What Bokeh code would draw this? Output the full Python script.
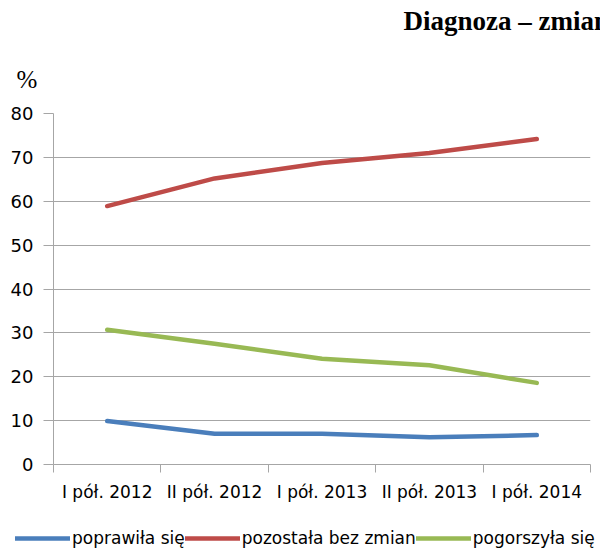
from bokeh.plotting import figure
from bokeh.layouts import column
from bokeh.models import (FixedTicker, Legend, LegendItem, Label, Range1d)
from bokeh.embed import file_html
from bokeh.resources import INLINE

periods = ["I pół. 2012", "II pół. 2012", "I pół. 2013", "II pół. 2013", "I pół. 2014"]
poprawila = [9.9, 7.0, 7.0, 6.2, 6.7]
bez_zmian = [58.9, 65.2, 68.7, 71.0, 74.2]
pogorszyla = [30.7, 27.5, 24.1, 22.6, 18.6]
series_names = ["poprawiła się", "pozostała bez zmian", "pogorszyła się"]
colors = ["#4A7EBB", "#BE4B48", "#98B954"]
y_ticks = [0, 10, 20, 30, 40, 50, 60, 70, 80]
title_text = "Diagnoza – zmian"
unit_text = "%"

xs = [i + 0.5 for i in range(len(periods))]
series = [poprawila, bez_zmian, pogorszyla]

grey = "#A6A6A6"
font = "DejaVu Sans"

# header strip with the title and the unit label
head = figure(width=600, height=100, output_backend="svg", toolbar_location=None,
              x_range=Range1d(0, 600), y_range=Range1d(0, 100),
              min_border=0, x_axis_location=None, y_axis_location=None)
head.frame_align = False
head.outline_line_color = None
head.grid.grid_line_color = None
head.border_fill_color = "white"
head.add_layout(Label(x=403, y=80, x_units="screen", y_units="screen",
                      text=title_text, text_font="Liberation Serif",
                      text_font_style="bold", text_font_size="27px",
                      text_baseline="alphabetic", text_color="black"))
head.add_layout(Label(x=16, y=21, x_units="screen", y_units="screen",
                      text=unit_text, text_font="Liberation Serif",
                      text_font_size="25px", text_baseline="alphabetic",
                      text_color="black"))

p = figure(width=600, height=412, output_backend="svg", toolbar_location=None,
           x_range=Range1d(0, len(periods)), y_range=Range1d(0, 80),
           min_border_left=53, min_border_right=10, min_border_top=13,
           min_border_bottom=48)
p.frame_align = False
p.outline_line_color = None
p.background_fill_color = "white"
p.border_fill_color = "white"

# y axis
p.yaxis.ticker = FixedTicker(ticks=y_ticks)
p.yaxis.axis_line_color = grey
p.yaxis.major_tick_line_color = grey
p.yaxis.major_tick_out = 10
p.yaxis.major_tick_in = 0
p.yaxis.minor_tick_line_color = None
p.yaxis.major_label_text_font = font
p.yaxis.major_label_text_font_size = "18px"
p.yaxis.major_label_text_color = "black"
p.yaxis.major_label_standoff = 10
p.ygrid.grid_line_color = grey
p.ygrid.ticker = FixedTicker(ticks=y_ticks)

# x axis: labels at centers, tick marks at boundaries
p.xaxis.ticker = FixedTicker(ticks=xs, minor_ticks=list(range(len(periods) + 1)))
p.xaxis.major_label_overrides = {x: lab for x, lab in zip(xs, periods)}
p.xaxis.axis_line_color = grey
p.xaxis.major_tick_line_color = None
p.xaxis.minor_tick_line_color = grey
p.xaxis.minor_tick_out = 8
p.xaxis.minor_tick_in = 0
p.xaxis.major_label_text_font = font
p.xaxis.major_label_text_font_size = "17px"
p.xaxis.major_label_text_color = "black"
p.xaxis.major_label_standoff = 9
p.xgrid.grid_line_color = None

for vals, c in zip(series, colors):
    p.line(xs, vals, line_color=c, line_width=4.5, line_cap="round", line_join="round")

# legend strip below the chart (its own renderers lie outside its visible range)
leg = figure(width=600, height=40, output_backend="svg", toolbar_location=None,
             x_range=Range1d(0, len(periods)), y_range=Range1d(-200, -190),
             min_border=0, x_axis_location=None, y_axis_location=None)
leg.frame_align = False
leg.outline_line_color = None
leg.grid.grid_line_color = None
leg.border_fill_color = "white"
items = []
for name, vals, c in zip(series_names, series, colors):
    r = leg.line(xs, vals, line_color=c, line_width=4.5, line_cap="round")
    items.append(LegendItem(label=name, renderers=[r]))
legend = Legend(items=items, orientation="horizontal", location=(15, 4),
                glyph_width=55, glyph_height=10, label_standoff=2, spacing=0,
                padding=0, margin=0, border_line_color=None,
                background_fill_alpha=0, label_text_font=font,
                label_text_font_size="17px", label_text_color="black")
leg.add_layout(legend, "center")

layout = column(head, p, leg, spacing=0)
open("out.html", "w").write(file_html(layout, INLINE))
